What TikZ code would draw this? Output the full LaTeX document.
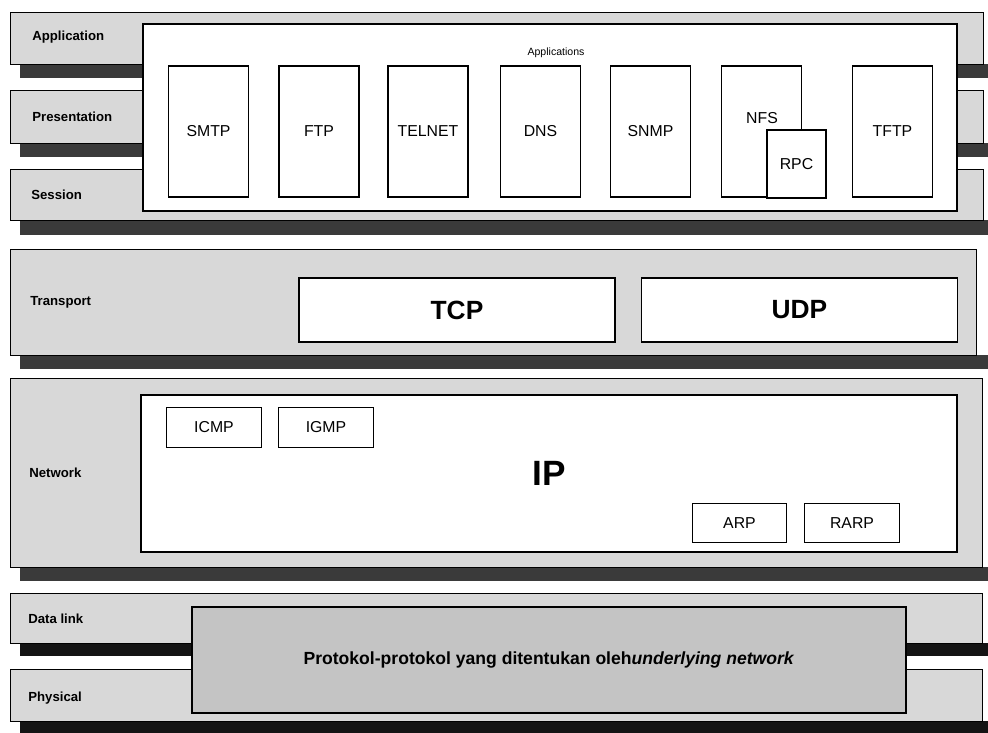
\documentclass[tikz,border=0pt]{standalone}
\usepackage{fontspec}
\setmainfont{Liberation Sans}
\usepackage{xcolor}
\usetikzlibrary{positioning}

\definecolor{barGray}{HTML}{D8D8D8}
\definecolor{boxGray}{HTML}{C4C4C4}
\definecolor{shadeGray}{HTML}{3A3A3A}
\definecolor{shadeDark}{HTML}{141414}

\begin{document}
\begin{tikzpicture}
  [ x=0.2mm, y=-0.2mm,
    layer/.style={draw=black, fill=barGray, line width=0.5pt},
    shade/.style={fill=shadeGray},
    lname/.style={anchor=west, inner sep=0pt, font=\bfseries\fontsize{7.5}{9}\selectfont},
    big/.style={draw=black, fill=white, line width=0.7pt, inner sep=0pt},
    app/.style={draw=black, fill=white, line width=0.7pt, inner sep=0pt,
      minimum width=16mm, minimum height=26.2mm, font=\fontsize{9}{11}\selectfont},
    small/.style={draw=black, fill=white, line width=0.7pt, inner sep=0pt,
      minimum width=18.9mm, minimum height=7.9mm, font=\fontsize{9}{11}\selectfont},
    trans/.style={draw=black, fill=white, line width=0.7pt, inner sep=0pt,
      minimum width=63.2mm, minimum height=12.8mm, font=\bfseries\fontsize{15}{17}\selectfont}
  ]
  \useasboundingbox (0,0) rectangle (988,733);

  % layer bars with their shadows
  \fill [shade] (20,64)  rectangle (995,78);
  \draw [layer] (10,12)  rectangle (983,64);
  \fill [shade] (20,143) rectangle (995,157);
  \draw [layer] (10,90)  rectangle (983,143);
  \fill [shade] (20,220) rectangle (995,235);
  \draw [layer] (10,169) rectangle (983,220);
  \fill [shade] (20,355) rectangle (995,369);
  \draw [layer] (10,249) rectangle (976,355);
  \fill [shade] (20,567) rectangle (995,581);
  \draw [layer] (10,378) rectangle (982,567);
  \fill [shadeDark] (20,643) rectangle (995,656);
  \draw [layer] (10,593) rectangle (982,643);
  \fill [shadeDark] (20,721) rectangle (995,740);
  \draw [layer] (10,669) rectangle (982,721);

  \node (lapp)  at (32,37)  [lname] {Application};
  \node (lpres) at (32,117) [lname] {Presentation};
  \node (lses)  at (31,195) [lname] {Session};
  \node (ltra)  at (30,302) [lname] {Transport};
  \node (lnet)  at (29,473) [lname] {Network};
  \node (ldl)   at (28,619) [lname] {Data link};
  \node (lphy)  at (28,698) [lname] {Physical};

  % application layer
  \node (apps) at (550,117.5) [big, minimum width=162.8mm, minimum height=37.4mm] {};
  \node (appst) at (556,53) [font=\fontsize{6}{7}\selectfont] {Applications};
  \node (smtp)   at (208.5,131.5) [app] {SMTP};
  \node (ftp)    at (319,131.5)   [app] {FTP};
  \node (telnet) at (428,131.5)   [app] {TELNET};
  \node (dns)    at (540.5,131.5) [app] {DNS};
  \node (snmp)   at (650.5,131.5) [app] {SNMP};
  \node (nfs)    at (761.5,131.5) [app] {};
  \node (nfst)   at (762,118) [font=\fontsize{9}{11}\selectfont] {NFS};
  \node (rpc)    at (796.5,164)   [app, minimum width=11.8mm, minimum height=13.6mm] {RPC};
  \node (tftp)   at (892.5,131.5) [app] {TFTP};

  % transport layer
  \node (tcp) at (457,310)   [trans] {TCP};
  \node (udp) at (799.5,310) [trans] {UDP};

  % network layer
  \node (ip) at (549,473.5) [big, minimum width=163.2mm, minimum height=31.4mm,
    font=\bfseries\fontsize{20}{22}\selectfont] {IP};
  \node (icmp) at (214,427.5) [small] {ICMP};
  \node (igmp) at (326,427.5) [small] {IGMP};
  \node (arp)  at (739.5,523) [small] {ARP};
  \node (rarp) at (852,523)   [small] {RARP};

  % data link + physical
  \node (under) at (549,660) [big, fill=boxGray, minimum width=142.8mm, minimum height=21.2mm,
    font=\bfseries\fontsize{10}{12}\selectfont]
    {Protokol-protokol yang ditentukan oleh\textit{underlying network}};
\end{tikzpicture}
\end{document}
